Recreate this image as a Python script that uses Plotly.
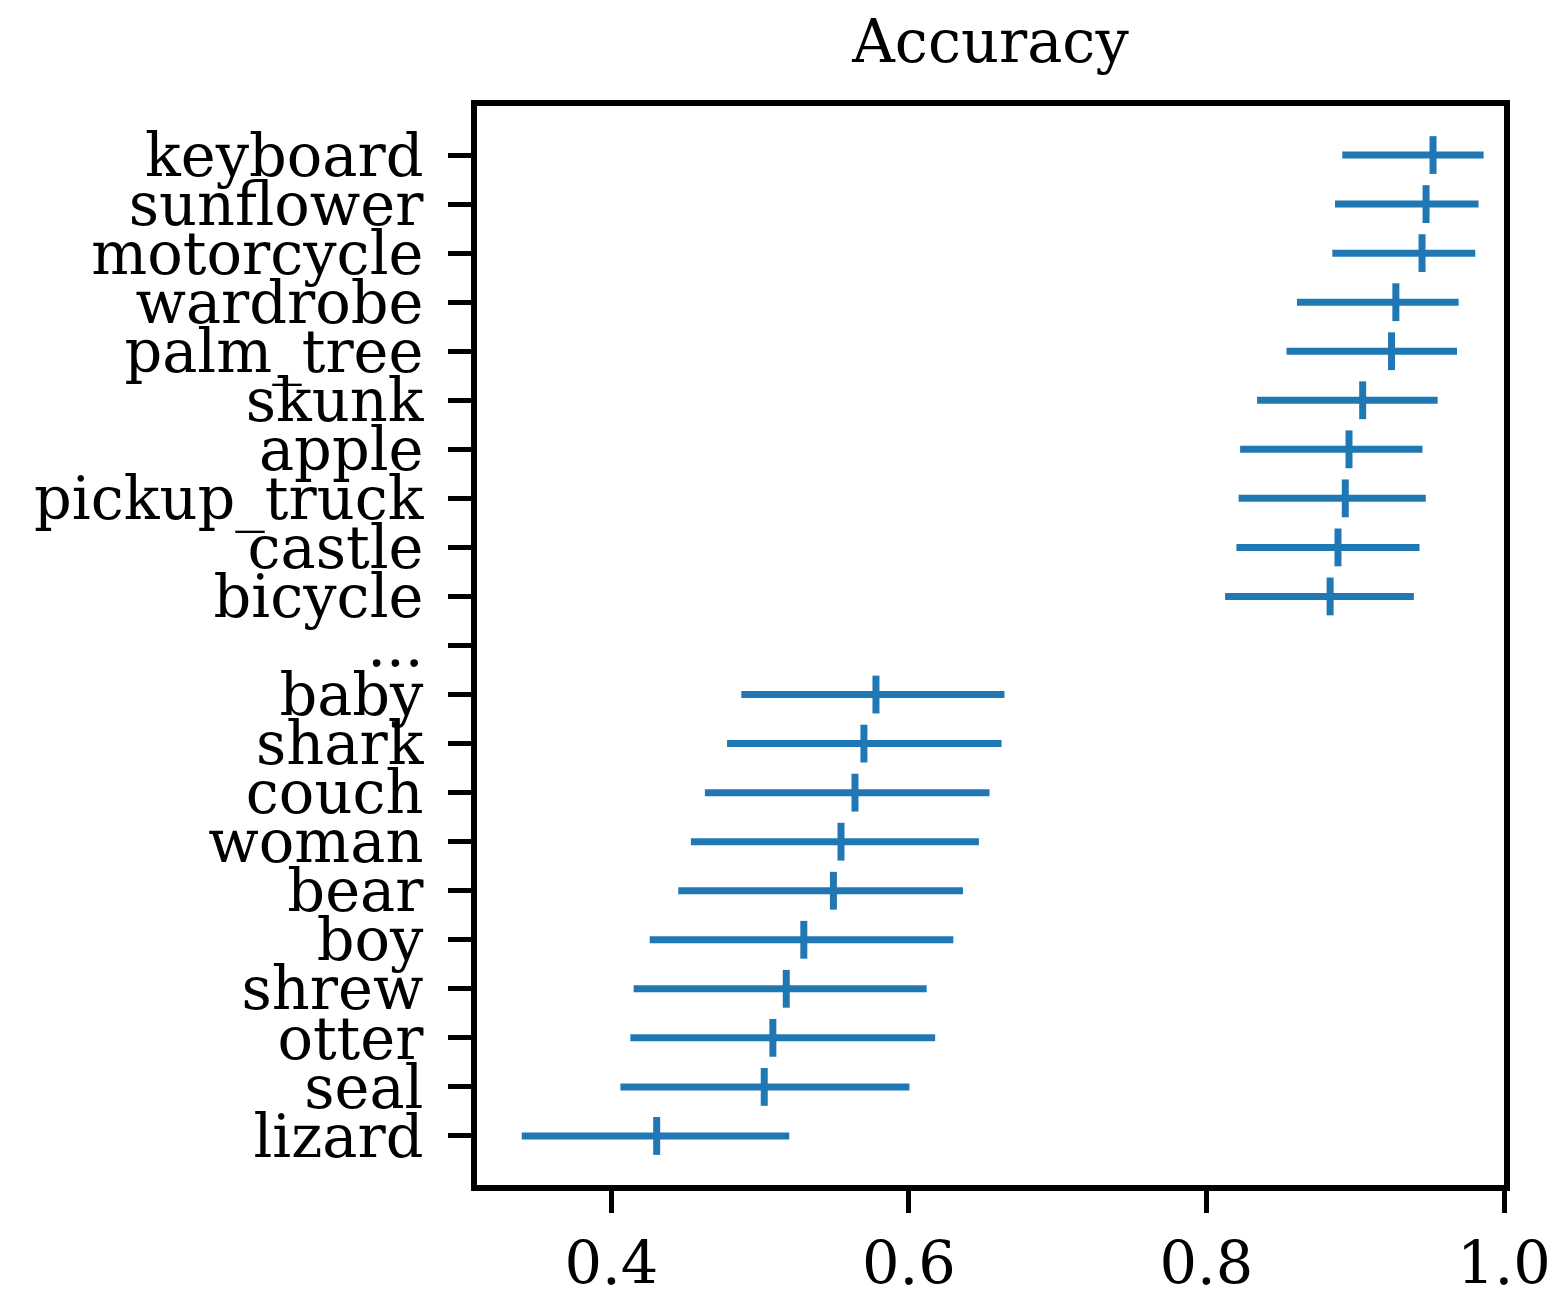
import plotly.graph_objects as go

categories = ["keyboard", "sunflower", "motorcycle", "wardrobe", "palm_tree", "skunk",
              "apple", "pickup_truck", "castle", "bicycle", "...",
              "baby", "shark", "couch", "woman", "bear", "boy", "shrew", "otter", "seal", "lizard"]
mean = [0.9523, 0.9476, 0.9449, 0.9273, 0.9244, 0.9050, 0.8958, 0.8933, 0.8884, 0.8831, None,
        0.5778, 0.5697, 0.5637, 0.5543, 0.5492, 0.5293, 0.5175, 0.5085, 0.5027, 0.4304]
low = [0.8913, 0.8864, 0.8846, 0.8608, 0.8538, 0.8340, 0.8226, 0.8216, 0.8201, 0.8125, None,
       0.4873, 0.4777, 0.4628, 0.4534, 0.4449, 0.4257, 0.4149, 0.4127, 0.4060, 0.3397]
high = [0.9863, 0.9829, 0.9807, 0.9695, 0.9684, 0.9554, 0.9452, 0.9474, 0.9432, 0.9394, None,
        0.6642, 0.6622, 0.6541, 0.6470, 0.6363, 0.6298, 0.6119, 0.6176, 0.6003, 0.5195]
xticks = [0.4, 0.6, 0.8, 1.0]

color = "#1f77b4"
font = "DejaVu Serif"
fs = 59

err_plus = [None if m is None else h - m for m, h in zip(mean, high)]
err_minus = [None if m is None else m - l for m, l in zip(mean, low)]

fig = go.Figure()
fig.add_trace(go.Scatter(
    x=mean, y=categories, mode="markers",
    marker=dict(symbol="line-ns", size=27, color=color, line=dict(color=color, width=7)),
    error_x=dict(type="data", symmetric=False, array=err_plus, arrayminus=err_minus,
                 color=color, thickness=7, width=0),
    showlegend=False,
))

n = len(categories)
fig.update_layout(
    width=1564, height=1293,
    margin=dict(l=477, r=60, t=106, b=108, autoexpand=False),
    paper_bgcolor="white", plot_bgcolor="white",
    font=dict(family=font, size=fs, color="black"),
    title=dict(text="Accuracy", x=0.5, xanchor="center", xref="paper",
               y=1, yref="paper", yanchor="bottom", pad=dict(b=44),
               font=dict(family=font, size=fs, color="black")),
)
fig.update_xaxes(
    range=[0.3096, 1.0], tickmode="array", tickvals=xticks,
    ticktext=[f"{v:.1f}" for v in xticks],
    showgrid=False, zeroline=False, automargin=False,
    showline=True, linecolor="black", linewidth=5.5, mirror=True,
    ticks="outside", ticklen=22, tickwidth=5, tickcolor="black",
    ticklabelstandoff=0,
    tickfont=dict(family=font, size=fs, color="black"),
)
fig.update_yaxes(
    type="category", categoryorder="array", categoryarray=categories,
    tickmode="array", tickvals=categories, ticktext=categories,
    range=[n, -1],
    showgrid=False, zeroline=False, automargin=False,
    showline=True, linecolor="black", linewidth=5.5, mirror=True,
    ticks="outside", ticklen=23, tickwidth=5, tickcolor="black",
    ticklabelstandoff=13,
    tickfont=dict(family=font, size=fs, color="black"),
)

fig.write_html("out.html")
